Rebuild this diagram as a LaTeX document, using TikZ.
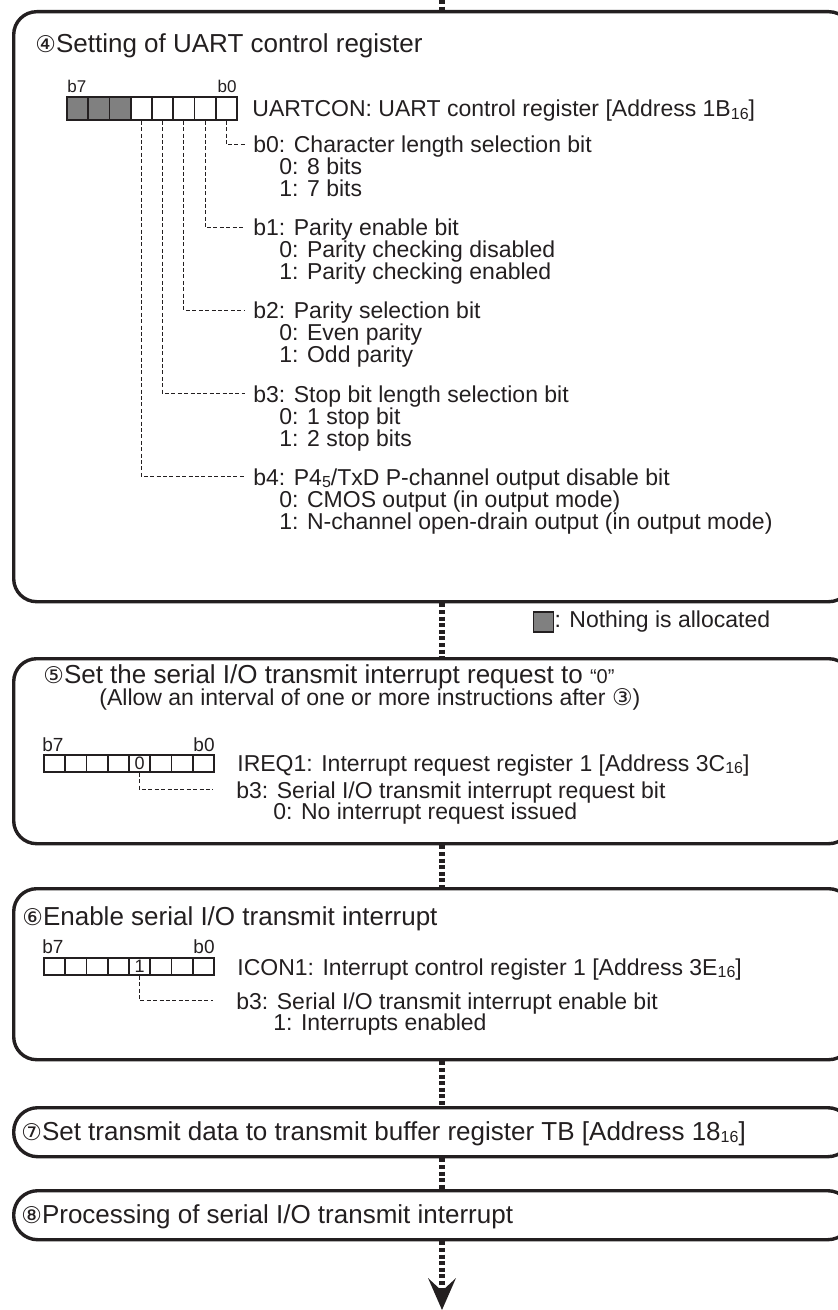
\documentclass[tikz,border=0pt]{standalone}
\usepackage{fontspec}
\setmainfont{Liberation Sans}
\newfontfamily\circfont{DejaVu Sans}
\usetikzlibrary{arrows.meta}
\definecolor{ink}{HTML}{231F20}
\definecolor{unused}{HTML}{808080}
\newcommand{\lowsub}[1]{\raisebox{-0.2ex}{\fontsize{8}{8}\selectfont #1}}
\newcommand{\circno}[1]{{\circfont\fontsize{11.5}{11.5}\selectfont #1}}

\begin{document}
\begin{tikzpicture}[x=0.5pt,y=-0.5pt,
  stepbox/.style={draw=ink,line width=1.7pt,rounded corners=11.5pt,anchor=north west,
                  minimum width=419pt,inner sep=0pt},
  flow/.style={ink,line width=3pt,dash pattern=on 2pt off 1.3pt},
  cell/.style={draw=ink,line width=0.8pt,minimum width=10.625pt,minimum height=#1,
               inner sep=0pt,font=\fontsize{9}{9}\selectfont,text=ink},
  leader/.style={ink,line width=0.5pt,dash pattern=on 2pt off 1.2pt},
  txt/.style={font=\fontsize{11.5}{12}\selectfont,text=ink,inner sep=0pt},
  hdr/.style={txt,text height=8.3pt,text depth=0pt},
  ttl/.style={font=\fontsize{13}{14}\selectfont,text=ink,inner sep=0pt}]

\useasboundingbox (0,0) rectangle (838,1310);

%-------------------------------------------------------------------
% Boxes of the flow
\node[stepbox,minimum height=295pt]  (setuart) at (12,10)   {};
\node[stepbox,minimum height=92.5pt] (clrreq)  at (12,657)  {};
\node[stepbox,minimum height=85.5pt] (enint)   at (12,887)  {};
\node[stepbox,minimum height=24.5pt,rounded corners=12pt] (settb) at (12,1106) {};
\node[stepbox,minimum height=24.5pt,rounded corners=12pt] (proc)  at (12,1189) {};

% Dotted flow line
\coordinate (spine) at (442,0);
\coordinate (tail)  at (442,1310);
\draw[flow] (spine) -- (setuart.north -| spine);
\draw[flow] (setuart.south -| spine) -- (clrreq.north -| spine);
\draw[flow] (clrreq.south -| spine) -- (enint.north -| spine);
\draw[flow] (enint.south -| spine) -- (settb.north -| spine);
\draw[flow] (settb.south -| spine) -- (proc.north -| spine);
\draw[flow,-{Stealth[length=16pt,width=14pt,inset=6.5pt,line width=0pt]}]
  (proc.south -| spine) -- (tail);

%-------------------------------------------------------------------
% Step 4: UARTCON
\node[ttl,anchor=base west] (t4) at (35,53) {\circno{④}Setting of UART control register};

\foreach \k/\f in {0/white,1/white,2/white,3/white,4/white,5/unused,6/unused,7/unused}{
    \node[cell=11.5pt,fill=\f] (ua\k) at ({237-(\k+0.5)*21.25},108.5) {};
}
\node[font=\fontsize{8.5}{9}\selectfont,text=ink,inner sep=0pt,anchor=base west] (ua-hi) at (67,93) {b7};
\node[font=\fontsize{8.5}{9}\selectfont,text=ink,inner sep=0pt,anchor=base east] (ua-lo) at (237,93) {b0};
\node[txt,anchor=base west] (ua-name) at (252,117) {UARTCON: UART control register [Address 1B\lowsub{16}]};

\foreach \k/\y/\head/\zero/\one in {
    0/153/{b0: Character length selection bit}/{0: 8 bits}/{1: 7 bits},
    1/236/{b1: Parity enable bit}/{0: Parity checking disabled}/{1: Parity checking enabled},
    2/319/{b2: Parity selection bit}/{0: Even parity}/{1: Odd parity},
    3/402/{b3: Stop bit length selection bit}/{0: 1 stop bit}/{1: 2 stop bits},
    4/485/{b4: P4\lowsub{5}/TxD P-channel output disable bit}/{0: CMOS output (in output mode)}/{1: N-channel open-drain output (in output mode)}}{
    \node[hdr,anchor=base west] (uh\k) at (253,\y) {\head};
    \node[txt,anchor=base west] (uz\k) at (279,\y+22) {\zero};
    \node[txt,anchor=base west] (uo\k) at (279,\y+44) {\one};
    \draw[leader,shorten >=4pt] (ua\k.south) |- (uh\k.west);
}

% Legend
\node[draw=ink,fill=unused,line width=0.6pt,minimum size=10pt,inner sep=0pt] (legsq) at (543.5,622) {};
\node[txt,anchor=west] (legtxt) at (legsq.east) {: Nothing is allocated};

%-------------------------------------------------------------------
% Step 5: IREQ1
\node[ttl,anchor=base west] (t5) at (43,683)
  {\circno{⑤}Set the serial I/O transmit interrupt request to {\fontsize{10}{10}\selectfont “0”}};
\node[txt,anchor=base west] (t5b) at (99,705)
  {(Allow an interval of one or more instructions after \circno{③})};

\foreach \k/\v in {0/{},1/{},2/{},3/0,4/{},5/{},6/{},7/{}}{
    \node[cell=8.5pt] (rq\k) at ({214-(\k+0.5)*21.25},763.5) {\v};
}
\node[font=\fontsize{9.5}{10}\selectfont,text=ink,inner sep=0pt,anchor=base west] (rq-hi) at (42,751) {b7};
\node[font=\fontsize{9.5}{10}\selectfont,text=ink,inner sep=0pt,anchor=base east] (rq-lo) at (215,751) {b0};
\node[txt,anchor=base west] (rq-name) at (237,771) {IREQ1: Interrupt request register 1 [Address 3C\lowsub{16}]};

\node[hdr,anchor=base west] (rqh) at (236,798) {b3: Serial I/O transmit interrupt request bit};
\node[txt,anchor=base west] (rqz) at (273,819) {0: No interrupt request issued};
\draw[leader,shorten >=11.5pt] (rq3.south) |- (rqh.west);

%-------------------------------------------------------------------
% Step 6: ICON1
\node[ttl,anchor=base west] (t6) at (22,925) {\circno{⑥}Enable serial I/O transmit interrupt};

\foreach \k/\v in {0/{},1/{},2/{},3/1,4/{},5/{},6/{},7/{}}{
    \node[cell=8.5pt] (ic\k) at ({214-(\k+0.5)*21.25},966.5) {\v};
}
\node[font=\fontsize{9.5}{10}\selectfont,text=ink,inner sep=0pt,anchor=base west] (ic-hi) at (42,953) {b7};
\node[font=\fontsize{9.5}{10}\selectfont,text=ink,inner sep=0pt,anchor=base east] (ic-lo) at (215,953) {b0};
\node[txt,anchor=base west] (ic-name) at (237,975) {ICON1: Interrupt control register 1 [Address 3E\lowsub{16}]};

\node[hdr,anchor=base west] (ich) at (236,1009) {b3: Serial I/O transmit interrupt enable bit};
\node[txt,anchor=base west] (icz) at (273,1030) {1: Interrupts enabled};
\draw[leader,shorten >=11.5pt] (ic3.south) |- (ich.west);

%-------------------------------------------------------------------
% Steps 7 and 8
\node[ttl,anchor=base west] (t7) at (21,1140)
  {\circno{⑦}Set transmit data to transmit buffer register TB [Address 18\lowsub{16}]};
\node[ttl,anchor=base west] (t8) at (21,1223)
  {\circno{⑧}Processing of serial I/O transmit interrupt};

\end{tikzpicture}
\end{document}
